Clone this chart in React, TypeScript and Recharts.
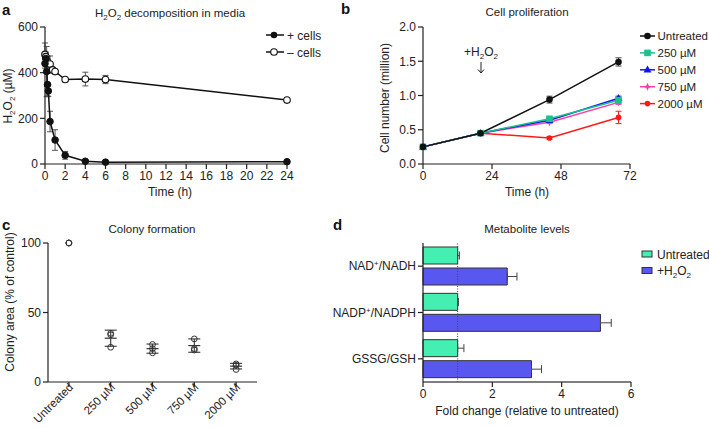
import React from 'react';
import {
  LineChart, Line, XAxis, YAxis, ErrorBar, ScatterChart, Scatter, BarChart, Bar, ReferenceLine,
} from 'recharts';

const FONT = '"Liberation Sans", Arial, Helvetica, sans-serif';

// ---------- Panel a: H2O2 decomposition ----------
const plusTimes = [0, 0.083, 0.167, 0.25, 0.33, 0.5, 1, 2, 4, 6, 24];
const plusValues = [440, 462, 405, 348, 320, 186, 105, 38, 12, 8, 10];
const plusErrors = [20, 15, 110, 50, 25, 45, 45, 17, 4, 3, 3];
const minusTimes = [0, 0.083, 0.25, 0.5, 0.75, 1, 2, 4, 6, 24];
const minusValues = [480, 470, 448, 438, 412, 405, 370, 372, 370, 280];
const minusErrors = [50, 20, 25, 35, 12, 10, 5, 30, 18, 5];
const timeTicksA = [0, 2, 4, 6, 8, 10, 12, 14, 16, 18, 20, 22, 24];
const h2o2TicksA = [0, 200, 400, 600];

// ---------- Panel b: Cell proliferation ----------
const timesB = [0, 20, 44, 68];
const untreatedCells = [0.25, 0.45, 0.94, 1.49];
const untreatedCellsErr = [0.01, 0.01, 0.05, 0.06];
const cells250 = [0.25, 0.45, 0.66, 0.93];
const cells250Err = [0.01, 0.01, 0.03, 0.05];
const cells500 = [0.25, 0.45, 0.64, 0.96];
const cells500Err = [0.01, 0.01, 0.02, 0.03];
const cells750 = [0.25, 0.45, 0.61, 0.9];
const cells750Err = [0.01, 0.01, 0.02, 0.03];
const cells2000 = [0.25, 0.45, 0.38, 0.68];
const cells2000Err = [0.01, 0.01, 0.02, 0.09];
const timeTicksB = [0, 24, 48, 72];
const cellTicksB = [0, 0.5, 1, 1.5, 2];

// ---------- Panel c: Colony formation ----------
const colonyGroups = ['Untreated', '250 µM', '500 µM', '750 µM', '2000 µM'];
const colonyPointGroup = [0, 0, 0, 1, 1, 1, 2, 2, 2, 3, 3, 3, 4, 4, 4];
const colonyPointValues = [100, 100, 100, 35, 34, 25, 27, 24, 21, 31, 24, 23, 13, 12, 9];
const colonyMeanGroup = [1, 2, 3, 4];
const colonyMeans = [31.5, 24, 26.2, 11.4];
const colonySds = [5.8, 3.3, 4.8, 2.0];
const colonyTicksY = [0, 50, 100];

// ---------- Panel d: Metabolite levels ----------
const metabolites = ['NAD+/NADH', 'NADP+/NADPH', 'GSSG/GSH'];
const untreatedFold = [1, 1, 1];
const untreatedFoldErr = [0.05, 0.02, 0.18];
const h2o2Fold = [2.43, 5.12, 3.13];
const h2o2FoldErr = [0.28, 0.31, 0.29];
const foldTicks = [0, 2, 4, 6];

// ---------- derived tables ----------
const plusData = plusTimes.map((t, i) => ({ t, v: plusValues[i], e: plusErrors[i] }));
const minusData = minusTimes.map((t, i) => ({ t, v: minusValues[i], e: minusErrors[i] }));
const prolifData = timesB.map((t, i) => ({
  t,
  u: untreatedCells[i], ue: untreatedCellsErr[i],
  c250: cells250[i], e250: cells250Err[i],
  c500: cells500[i], e500: cells500Err[i],
  c750: cells750[i], e750: cells750Err[i],
  c2000: cells2000[i], e2000: cells2000Err[i],
}));
const colonyPoints = colonyPointGroup.map((g, i) => ({ x: g, y: colonyPointValues[i] }));
const colonyMeanData = colonyMeanGroup.map((g, i) => ({ x: g, y: colonyMeans[i], sd: colonySds[i] }));
const metData = metabolites.map((name, i) => ({
  name,
  u: untreatedFold[i], ue: [0, untreatedFoldErr[i]],
  h: h2o2Fold[i], he: [0, h2o2FoldErr[i]],
}));

const AX = { stroke: '#222', strokeWidth: 1.2 };
const TICK = { fill: '#222', fontSize: 12, fontFamily: FONT };
const GREEN = '#19C28D';
const BLUE = '#1414F0';
const PINK = '#FF3FA4';
const RED = '#FF1A1A';

// chemistry text: list of [text, isSub]
const chem = (parts: [string, boolean][]) => {
  let prevSub = false;
  return parts.map(([s, sub], i) => {
    let dy = 0;
    if (sub && !prevSub) dy = 3;
    if (!sub && prevSub) dy = -3;
    prevSub = sub;
    return (
      <tspan key={i} dy={dy || undefined} fontSize={sub ? 8 : undefined}>{s}</tspan>
    );
  });
};
const H2O2: [string, boolean][] = [['H', false], ['2', true], ['O', false], ['2', true]];

type Shape = 'circle' | 'square' | 'triangle' | 'star' | 'small';
const marker = (shape: Shape, color: string, cx: number, cy: number, key?: any) => {
  switch (shape) {
    case 'square':
      return <rect key={key} x={cx - 3.3} y={cy - 3.3} width={6.6} height={6.6} fill={color} />;
    case 'triangle':
      return <polygon key={key} points={`${cx},${cy - 4.2} ${cx - 4},${cy + 2.8} ${cx + 4},${cy + 2.8}`} fill={color} />;
    case 'star':
      return (
        <path key={key}
          d={`M${cx},${cy - 4} L${cx + 1.2},${cy - 1.2} L${cx + 4},${cy} L${cx + 1.2},${cy + 1.2} L${cx},${cy + 4} L${cx - 1.2},${cy + 1.2} L${cx - 4},${cy} L${cx - 1.2},${cy - 1.2} Z`}
          fill={color} />
      );
    case 'small':
      return <circle key={key} cx={cx} cy={cy} r={2.8} fill={color} />;
    default:
      return <circle key={key} cx={cx} cy={cy} r={3.3} fill={color} />;
  }
};
const dotOf = (shape: Shape, color: string) => (props: any) => {
  const { cx, cy, index } = props;
  if (cx == null || cy == null) return <g key={`d${index}`} />;
  return marker(shape, color, cx, cy, `d${index}`);
};

const ColonyTick = (props: any) => {
  const { x, y, payload } = props;
  const ax = x + 5;
  const ay = y - 1;
  return (
    <text x={ax} y={ay} transform={`rotate(-45 ${ax} ${ay})`} textAnchor="end"
      fill="#222" fontSize={11.5} fontFamily={FONT}>
      {colonyGroups[payload.value]}
    </text>
  );
};

const MetTick = (props: any) => {
  const { x, y, payload } = props;
  const s: string = payload.value;
  const idx = s.indexOf('+');
  return (
    <text x={x} y={y} dy={4} textAnchor="end" fill="#222" fontSize={12} fontFamily={FONT}>
      {idx >= 0 ? (
        <>
          <tspan>{s.slice(0, idx)}</tspan>
          <tspan dy={-4} fontSize={8}>+</tspan>
          <tspan dy={4}>{s.slice(idx + 1)}</tspan>
        </>
      ) : s}
    </text>
  );
};

const MeanShape = (props: any) => {
  const { cx, cy } = props;
  return <line x1={cx - 6} x2={cx + 6} y1={cy} y2={cy} stroke="#333" strokeWidth={1.2} />;
};

const OpenCircle = (props: any) => {
  const { cx, cy } = props;
  return <circle cx={cx} cy={cy} r={2.9} fill="none" stroke="#333" strokeWidth={1} />;
};

const bLegend: { label: string; shape: Shape; color: string }[] = [
  { label: 'Untreated', shape: 'circle', color: '#111' },
  { label: '250 µM', shape: 'square', color: GREEN },
  { label: '500 µM', shape: 'triangle', color: BLUE },
  { label: '750 µM', shape: 'star', color: PINK },
  { label: '2000 µM', shape: 'small', color: RED },
];

export default function App() {
  return (
    <div style={{ position: 'absolute', left: 0, top: 0, width: 709, height: 428, background: '#fff', fontFamily: FONT }}>
      {/* Panel a */}
      <div style={{ position: 'absolute', left: 0, top: 0 }}>
        <LineChart width={355} height={210} margin={{ top: 27, right: 68, bottom: 0, left: 0 }}>
          <XAxis type="number" dataKey="t" domain={[0, 24]} ticks={timeTicksA} interval={0} height={46}
            tickSize={5} tickMargin={2} axisLine={AX} tickLine={AX} tick={TICK} allowDuplicatedCategory={false} />
          <YAxis type="number" domain={[0, 600]} ticks={h2o2TicksA} width={45}
            tickSize={5} tickMargin={2} axisLine={AX} tickLine={AX} tick={TICK} />
          <Line data={minusData} dataKey="v" stroke="#111" strokeWidth={1.5} isAnimationActive={false}
            dot={{ r: 3.3, fill: '#fff', stroke: '#111', strokeWidth: 1.1 }}>
            <ErrorBar dataKey="e" width={3} stroke="#555" strokeWidth={1} />
          </Line>
          <Line data={plusData} dataKey="v" stroke="#111" strokeWidth={1.5} isAnimationActive={false}
            dot={{ r: 3.3, fill: '#111', stroke: '#111', strokeWidth: 1 }}>
            <ErrorBar dataKey="e" width={3} stroke="#555" strokeWidth={1} />
          </Line>
        </LineChart>
      </div>

      {/* Panel b */}
      <div style={{ position: 'absolute', left: 355, top: 0 }}>
        <LineChart width={354} height={210} data={prolifData} margin={{ top: 27, right: 79, bottom: 0, left: 0 }}>
          <XAxis type="number" dataKey="t" domain={[0, 72]} ticks={timeTicksB} interval={0} height={46}
            tickSize={5} tickMargin={2} axisLine={AX} tickLine={AX} tick={TICK} />
          <YAxis type="number" domain={[0, 2]} ticks={cellTicksB} width={68}
            tickFormatter={(v: number) => v.toFixed(1)}
            tickSize={5} tickMargin={2} axisLine={AX} tickLine={AX} tick={TICK} />
          <Line dataKey="c2000" stroke={RED} strokeWidth={1.5} isAnimationActive={false} dot={dotOf('small', RED)}>
            <ErrorBar dataKey="e2000" width={3} stroke={RED} strokeWidth={1} />
          </Line>
          <Line dataKey="c750" stroke={PINK} strokeWidth={1.5} isAnimationActive={false} dot={dotOf('star', PINK)}>
            <ErrorBar dataKey="e750" width={3} stroke={PINK} strokeWidth={1} />
          </Line>
          <Line dataKey="c500" stroke={BLUE} strokeWidth={1.5} isAnimationActive={false} dot={dotOf('triangle', BLUE)}>
            <ErrorBar dataKey="e500" width={3} stroke={BLUE} strokeWidth={1} />
          </Line>
          <Line dataKey="c250" stroke={GREEN} strokeWidth={1.5} isAnimationActive={false} dot={dotOf('square', GREEN)}>
            <ErrorBar dataKey="e250" width={3} stroke={GREEN} strokeWidth={1} />
          </Line>
          <Line dataKey="u" stroke="#111" strokeWidth={1.5} isAnimationActive={false} dot={dotOf('circle', '#111')}>
            <ErrorBar dataKey="ue" width={3} stroke="#444" strokeWidth={1} />
          </Line>
        </LineChart>
      </div>

      {/* Panel c */}
      <div style={{ position: 'absolute', left: 0, top: 210 }}>
        <ScatterChart width={355} height={218} margin={{ top: 33, right: 98, bottom: 0, left: 0 }}>
          <XAxis type="number" dataKey="x" domain={[-0.5, 4.5]} ticks={[0, 1, 2, 3, 4]} interval={0} height={46}
            tickSize={5} tickMargin={2} axisLine={AX} tickLine={AX} tick={<ColonyTick />} />
          <YAxis type="number" dataKey="y" domain={[0, 100]} ticks={colonyTicksY} width={48}
            tickSize={5} tickMargin={2} axisLine={AX} tickLine={AX} tick={TICK} />
          <Scatter data={colonyPoints} shape={<OpenCircle />} isAnimationActive={false} />
          <Scatter data={colonyMeanData} shape={<MeanShape />} isAnimationActive={false}>
            <ErrorBar dataKey="sd" direction="y" width={6} stroke="#333" strokeWidth={1.1} />
          </Scatter>
        </ScatterChart>
      </div>

      {/* Panel d */}
      <div style={{ position: 'absolute', left: 290, top: 210 }}>
        <BarChart layout="vertical" width={419} height={218} data={metData}
          margin={{ top: 33, right: 78, bottom: 0, left: 0 }} barSize={17} barGap={4}>
          <XAxis type="number" domain={[0, 6]} ticks={foldTicks} interval={0} height={46}
            tickSize={5} tickMargin={2} axisLine={{ stroke: '#555', strokeWidth: 1.6 }} tickLine={AX} tick={TICK} />
          <YAxis type="category" dataKey="name" width={133}
            tickSize={5} tickMargin={2} axisLine={AX} tickLine={AX} tick={<MetTick />} />
          <Bar dataKey="u" fill="#45EFB1" stroke="#333" strokeWidth={1} isAnimationActive={false}>
            <ErrorBar dataKey="ue" direction="x" width={4} stroke="#444" strokeWidth={1} />
          </Bar>
          <Bar dataKey="h" fill="#5858F0" stroke="#333" strokeWidth={1} isAnimationActive={false}>
            <ErrorBar dataKey="he" direction="x" width={4} stroke="#444" strokeWidth={1} />
          </Bar>
          <ReferenceLine x={1} stroke="#444" strokeWidth={1} strokeDasharray="1 1.5" />
        </BarChart>
      </div>

      {/* Text overlay: panel letters, titles, axis titles, legends */}
      <svg width={709} height={428} style={{ position: 'absolute', left: 0, top: 0, pointerEvents: 'none' }}
        fontFamily={FONT} fill="#222">
        <g fontWeight="bold" fontSize={15} fill="#111">
          <text x={2} y={15}>a</text>
          <text x={341} y={14}>b</text>
          <text x={2} y={230}>c</text>
          <text x={333} y={230}>d</text>
        </g>
        <g fontSize={11.5} textAnchor="middle">
          <text x={170} y={16.5}>{chem([...H2O2, [' decomposition in media', false]])}</text>
          <text x={527} y={16}>Cell proliferation</text>
          <text x={152} y={233}>Colony formation</text>
          <text x={527} y={233}>Metabolite levels</text>
        </g>
        <g fontSize={12} textAnchor="middle">
          <text x={170} y={196}>Time (h)</text>
          <text x={527} y={196}>Time (h)</text>
          <text x={527} y={415}>Fold change (relative to untreated)</text>
          <text transform="rotate(-90)" x={-96} y={11.5}>{chem([...H2O2, [' (µM)', false]])}</text>
          <text transform="rotate(-90)" x={-98} y={389}>Cell number (million)</text>
          <text transform="rotate(-90)" x={-302} y={14}>Colony area (% of control)</text>
        </g>
        {/* +H2O2 annotation */}
        <g fontSize={12} textAnchor="middle">
          <text x={481} y={56}>{chem([['+', false], ...H2O2])}</text>
          <path d="M481,62 L481,73 M478,69.5 L481,73 L484,69.5" stroke="#222" strokeWidth={1} fill="none" />
        </g>
        {/* legend a */}
        <g fontSize={12}>
          <line x1={266} x2={284} y1={35} y2={35} stroke="#111" strokeWidth={1.5} />
          <circle cx={274} cy={35} r={3.3} fill="#111" />
          <text x={287} y={39.5}>+ cells</text>
          <line x1={266} x2={284} y1={52} y2={52} stroke="#111" strokeWidth={1.5} />
          <circle cx={274} cy={52} r={3.3} fill="#fff" stroke="#111" strokeWidth={1.1} />
          <text x={287} y={56.5}>– cells</text>
        </g>
        {/* legend b */}
        <g fontSize={11.5}>
          {bLegend.map((it, i) => {
            const y = 36 + i * 16.9;
            return (
              <g key={it.label}>
                <line x1={640} x2={655} y1={y} y2={y} stroke={it.color} strokeWidth={1.5} />
                {marker(it.shape, it.color, 647.5, y)}
                <text x={657.5} y={y + 4.2}>{it.label}</text>
              </g>
            );
          })}
        </g>
        {/* legend d */}
        <g fontSize={12}>
          <rect x={642} y={251} width={10} height={6} fill="#45EFB1" stroke="#333" strokeWidth={1} />
          <text x={657} y={258.5}>Untreated</text>
          <rect x={642} y={267.5} width={10} height={6} fill="#5858F0" stroke="#333" strokeWidth={1} />
          <text x={657} y={275}>{chem([['+', false], ...H2O2])}</text>
        </g>
      </svg>
    </div>
  );
}
